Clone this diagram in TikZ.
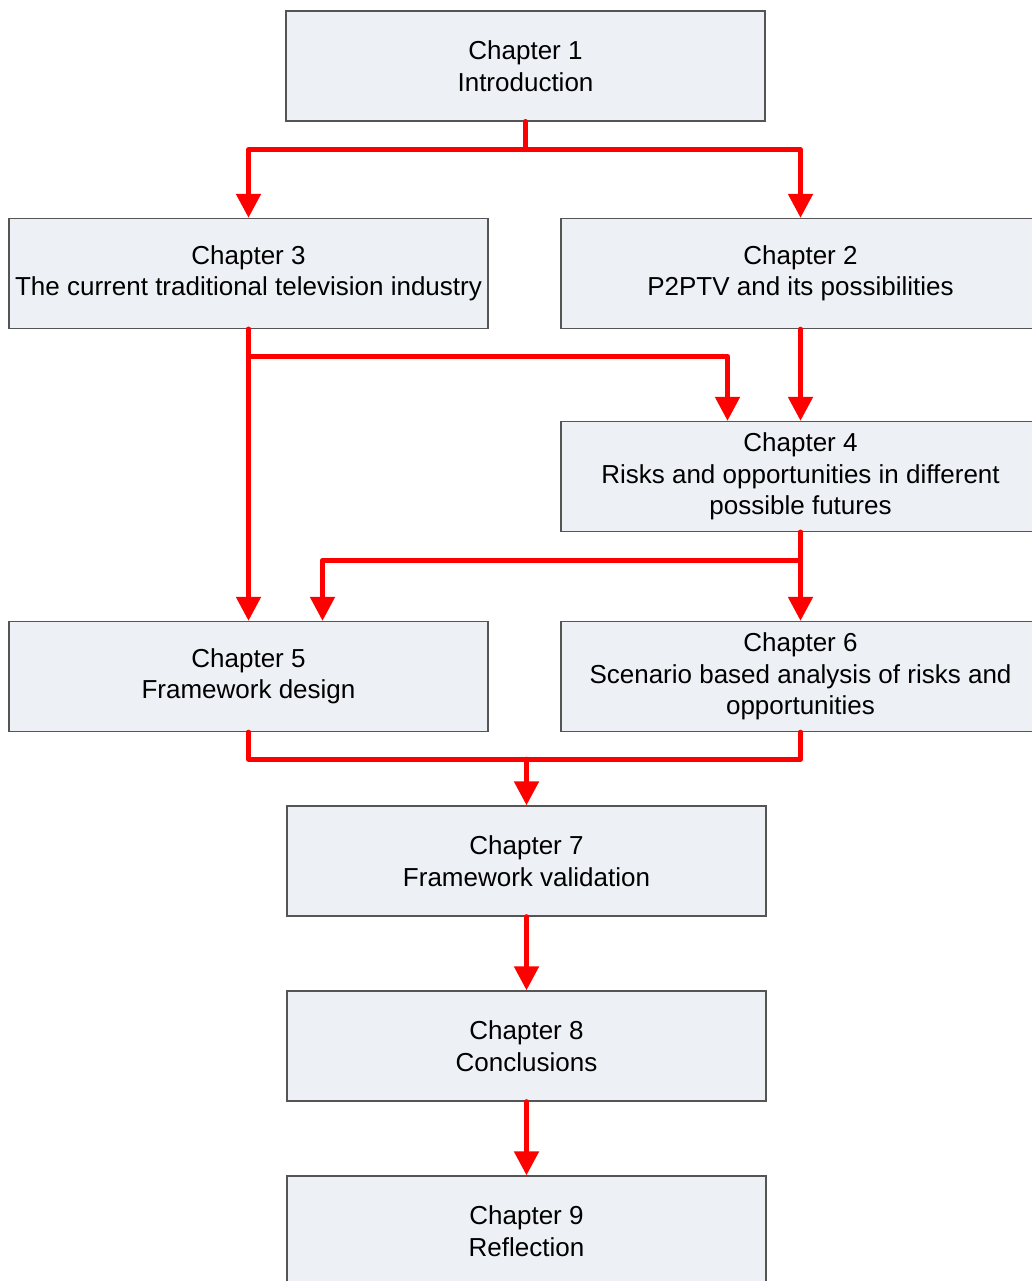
\documentclass[tikz,border=0pt]{standalone}
\usepackage{fontspec}
\setmainfont{Liberation Sans}
\usetikzlibrary{arrows.meta}
\definecolor{boxfill}{RGB}{237,240,245}
\definecolor{boxline}{RGB}{85,85,85}
\definecolor{flow}{RGB}{255,0,0}
\begin{document}
\begin{tikzpicture}[x=1pt,y=-1pt,
  chapbox/.style={draw=boxline,fill=boxfill,line width=1.3pt,
    minimum width=479pt,minimum height=110pt,inner sep=0pt,align=center,
    font=\fontsize{26}{31.5}\selectfont},
  link/.style={draw=flow,line width=5pt,line cap=round,line join=round},
  arr/.style={link,-{Triangle[width=24pt,length=24pt]}}]
\clip (0,0) rectangle (1032,1281);
\fill[white] (0,0) rectangle (1032,1281);

% chapter boxes
\node[chapbox] (c1) at (525.5,66)  {Chapter 1\\Introduction};
\node[chapbox] (c3) at (248.5,273.5) {Chapter 3\\The current traditional television industry};
\node[chapbox] (c2) at (800.5,273.5) {Chapter 2\\P2PTV and its possibilities};
\node[chapbox] (c4) at (800.5,476.5) {Chapter 4\\Risks and opportunities in different\\possible futures};
\node[chapbox] (c5) at (248.5,676.5) {Chapter 5\\Framework design};
\node[chapbox] (c6) at (800.5,676.5) {Chapter 6\\Scenario based analysis of risks and\\opportunities};
\node[chapbox] (c7) at (526.5,861) {Chapter 7\\Framework validation};
\node[chapbox] (c8) at (526.5,1046) {Chapter 8\\Conclusions};
\node[chapbox] (c9) at (526.5,1231) {Chapter 9\\Reflection};

% connectors
\draw[arr] (c1.south) -- ++(0,28) -| (c3.north);
\draw[arr] (c1.south) -- ++(0,28) -| (c2.north);
\draw[arr] (c3.south) -- (c5.north);
\draw[arr] (c3.south) -- ++(0,27) -| ([xshift=-73pt]c4.north);
\draw[arr] (c2.south) -- (c4.north);
\draw[arr] (c4.south) -- (c6.north);
\draw[arr] (c4.south) -- ++(0,28) -| ([xshift=74pt]c5.north);
\draw[link] (c5.south) -- ++(0,27) coordinate (j) -| (c6.south);
\draw[arr] (j -| c7.north) -- (c7.north);
\draw[arr] (c7.south) -- (c8.north);
\draw[arr] (c8.south) -- (c9.north);
\end{tikzpicture}
\end{document}
